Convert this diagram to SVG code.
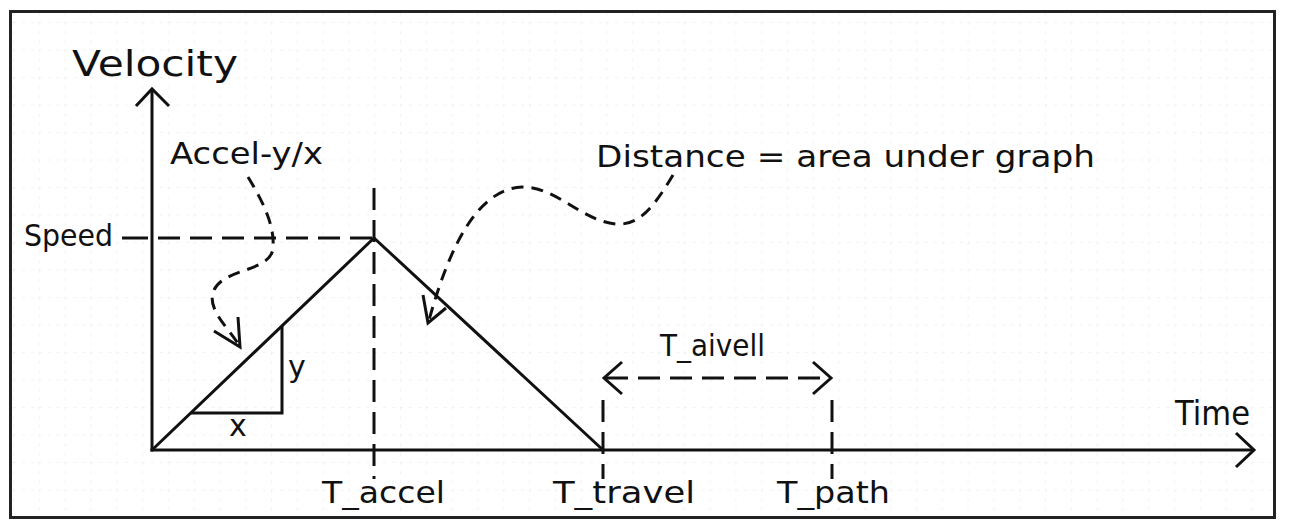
<svg xmlns="http://www.w3.org/2000/svg" width="1300" height="528" viewBox="0 0 1300 528">
<defs>
<style>
.ln{fill:none;stroke:#111;stroke-width:3;stroke-linecap:butt;stroke-linejoin:miter}
.dash{stroke-dasharray:22 10}
.cdash{stroke-dasharray:12 8}
.grid{fill:none;stroke:#e6e6e6;stroke-width:1;stroke-dasharray:3 6}
text{font-family:"DejaVu Sans","Liberation Sans",sans-serif;fill:#111}
</style>
<pattern id="gp" x="13" y="22" width="25.8" height="27.5" patternUnits="userSpaceOnUse">
<line class="grid" x1="0" y1="0" x2="25.8" y2="0"/>
<line class="grid" x1="0" y1="0" x2="0" y2="27.5"/>
</pattern>
</defs>
<rect x="0" y="0" width="1300" height="528" fill="#fff"/>
<g id="frame">
<rect x="12" y="13" width="1261" height="504" fill="url(#gp)"/>
<rect x="10.5" y="11.5" width="1264" height="506" fill="none" stroke="#222" stroke-width="3"/>
</g>
<g id="connectors">
<line class="ln" x1="152" y1="451.5" x2="152" y2="89"/>
<polyline class="ln" points="136,106 152,89 169,106"/>
<line class="ln" x1="150.5" y1="450" x2="1254" y2="450"/>
<polyline class="ln" points="1236,433 1254,450 1236,467"/>
<polyline class="ln" points="152,450 374,238 603,450"/>
<polyline class="ln" points="191,413 282,413 282,326"/>
<line class="ln" x1="122" y1="238" x2="148" y2="238"/>
<line class="ln dash" x1="158" y1="238" x2="374" y2="238"/>
<line class="ln dash" x1="374" y1="188" x2="374" y2="479"/>
<line class="ln dash" x1="603" y1="400" x2="603" y2="479"/>
<line class="ln dash" x1="832" y1="400" x2="832" y2="479"/>
<line class="ln dash" x1="606" y1="378" x2="829" y2="378"/>
<polyline class="ln" points="622,362 604,378 622,394"/>
<polyline class="ln" points="813,362 831,378 813,394"/>
<path class="ln cdash" d="M248,177 C262,200 275,225 273,248 C271,272 224,268 214,290 C206,308 226,325 239,345"/>
<polyline class="ln" points="214,331 240,347 238,317"/>
<path class="ln cdash" d="M673,175 C655,205 640,226 616,224 C582,221 555,186 522,187 C478,189 450,245 429,320"/>
<polyline class="ln" points="423,295 428,323 446,308"/>
</g>
<g id="labels">
<text id="velocity" x="72" y="76" font-size="35" textLength="166" lengthAdjust="spacingAndGlyphs">Velocity</text>
<text id="accel" x="170" y="164" font-size="31" textLength="153" lengthAdjust="spacingAndGlyphs">Accel-y/x</text>
<text id="speed" x="24" y="246" font-size="30" textLength="89" lengthAdjust="spacingAndGlyphs">Speed</text>
<text id="distance" x="596" y="167" font-size="31" textLength="499" lengthAdjust="spacingAndGlyphs">Distance = area under graph</text>
<text id="ylab" x="288" y="377" font-size="30">y</text>
<text id="xlab" x="229" y="436" font-size="30">x</text>
<text id="taccel" x="322" y="503" font-size="31" textLength="123" lengthAdjust="spacingAndGlyphs">T_accel</text>
<text id="ttravel" x="553" y="503" font-size="31" textLength="142" lengthAdjust="spacingAndGlyphs">T_travel</text>
<text id="tpath" x="777" y="503" font-size="31" textLength="113" lengthAdjust="spacingAndGlyphs">T_path</text>
<text id="taivell" x="660" y="356" font-size="30" textLength="105" lengthAdjust="spacingAndGlyphs">T_aivell</text>
<text id="time" x="1175" y="425" font-size="33" textLength="75" lengthAdjust="spacingAndGlyphs">Time</text>
</g>
</svg>
